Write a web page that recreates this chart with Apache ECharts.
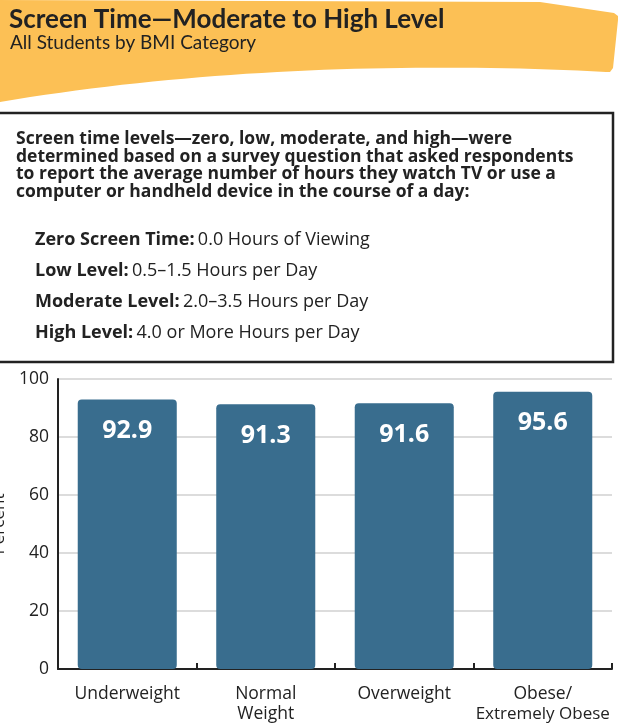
<!DOCTYPE html>
<html>
<head>
<meta charset="utf-8">
<script src="https://cdn.jsdelivr.net/npm/echarts@6/dist/echarts.min.js"></script>
<style>
html,body{margin:0;padding:0;background:#fff;}
#chart{width:625px;height:726px;}
</style>
</head>
<body>
<div id="chart"></div>
<script>
var titleText = 'Screen Time\u2014Moderate to High Level';
var subtitleText = 'All Students by BMI Category';
var introLines = [
  'Screen time levels\u2014zero, low, moderate, and high\u2014were',
  'determined based on a survey question that asked respondents',
  'to report the average number of hours they watch TV or use a',
  'computer or handheld device in the course of a day:'
];
var levelNames = ['Zero Screen Time:', 'Low Level:', 'Moderate Level:', 'High Level:'];
var levelDescs = ['0.0 Hours of Viewing', '0.5\u20131.5 Hours per Day', '2.0\u20133.5 Hours per Day', '4.0 or More Hours per Day'];
var categories = ['Underweight', 'Normal\nWeight', 'Overweight', 'Obese/\n{n|Extremely Obese}'];
var values = [92.9, 91.3, 91.6, 95.6];
var yTicks = [0, 20, 40, 60, 80, 100];
var yAxisName = 'Percent';

var chart = echarts.init(document.getElementById('chart'), null, {renderer: 'canvas'});

// banner outline (decorative shape)
function cubic(p0, p1, p2, p3, n) {
  var pts = [];
  for (var i = 0; i <= n; i++) {
    var t = i / n, u = 1 - t;
    pts.push([
      u*u*u*p0[0] + 3*u*u*t*p1[0] + 3*u*t*t*p2[0] + t*t*t*p3[0],
      u*u*u*p0[1] + 3*u*u*t*p1[1] + 3*u*t*t*p2[1] + t*t*t*p3[1]
    ]);
  }
  return pts;
}
var bannerPts = [[0, 0], [540, 2], [614, 13], [618, 16], [618, 20], [613, 68], [610, 72], [606, 72]]
  .concat(cubic([606, 72], [420, 62], [200, 68], [0, 102], 40));

var graphics = [
  {
    type: 'polygon',
    shape: {points: bannerPts},
    style: {fill: '#FCC055'},
    z: 0
  },
  {
    type: 'text', left: 9, top: 7,
    style: {text: titleText, font: 'bold 26px Lato, "Open Sans", sans-serif', fill: '#222'}
  },
  {
    type: 'text', left: 10, top: 33,
    style: {text: subtitleText, font: '19px Lato, "Open Sans", sans-serif', fill: '#222'}
  },
  {
    type: 'rect',
    shape: {x: -5, y: 113, width: 618, height: 249},
    style: {fill: 'none', stroke: '#222', lineWidth: 2.5}
  }
];
introLines.forEach(function (line, i) {
  graphics.push({
    type: 'text', left: 16, top: 130 + i * 17.7,
    style: {text: line, font: 'bold 17.5px "Open Sans", sans-serif', fill: '#222'}
  });
});
levelNames.forEach(function (nm, i) {
  graphics.push({
    type: 'text', left: 35, top: 231 + i * 31,
    style: {
      text: '{b|' + nm + '} {r|' + levelDescs[i] + '}',
      rich: {
        b: {font: 'bold 18px "Open Sans", sans-serif', fill: '#222'},
        r: {font: '18px "Open Sans", sans-serif', fill: '#222'}
      }
    }
  });
});

chart.setOption({
  animation: false,
  graphic: graphics,
  grid: {left: 58, right: 13, top: 379, bottom: 57, containLabel: false, outerBoundsMode: 'none'},
  xAxis: {
    type: 'category',
    data: categories,
    axisLine: {lineStyle: {color: '#222', width: 2}},
    axisTick: {show: true, inside: true, length: 6, lineStyle: {color: '#222', width: 2}},
    axisLabel: {
      interval: 0, margin: 15, color: '#222',
      fontFamily: '"Open Sans", sans-serif', fontSize: 17.5, lineHeight: 20,
      rich: {n: {fontFamily: '"Liberation Sans Narrow", "Open Sans", sans-serif', fontSize: 17, color: '#222', lineHeight: 20}}
    }
  },
  yAxis: {
    type: 'value', min: yTicks[0], max: yTicks[yTicks.length - 1], interval: 20,
    name: yAxisName, nameLocation: 'middle', nameGap: 50, nameRotate: 90,
    nameTextStyle: {fontFamily: '"Open Sans", sans-serif', fontSize: 17, color: '#222'},
    axisLine: {show: true, lineStyle: {color: '#222', width: 2}},
    axisTick: {show: false},
    axisLabel: {color: '#222', fontFamily: '"Open Sans", sans-serif', fontSize: 17.5, margin: 9},
    splitLine: {lineStyle: {color: '#dcdcdc', width: 2}}
  },
  series: [{
    type: 'bar',
    data: values,
    barCategoryGap: '28.5%',
    itemStyle: {color: '#396D8E', borderRadius: 4},
    label: {
      show: true, position: 'insideTop', distance: 19,
      color: '#fff', fontFamily: '"Open Sans", sans-serif', fontWeight: 'bold', fontSize: 25,
      formatter: function (p) { return p.value.toFixed(1); }
    }
  }]
});
</script>
</body>
</html>
